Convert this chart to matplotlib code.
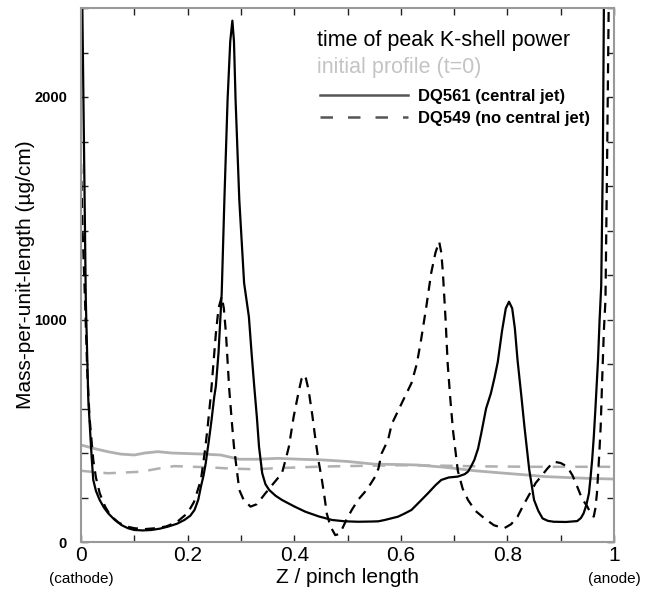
import numpy as np
import matplotlib
matplotlib.use('Agg')
import matplotlib.pyplot as plt
from matplotlib.lines import Line2D
from matplotlib.ticker import MultipleLocator, FuncFormatter

plt.rcParams['font.family'] = ['Liberation Sans', 'DejaVu Sans']

# DQ561 (central jet), time of peak K-shell power
z561 = [0.000, 0.0025, 0.006, 0.009, 0.0137, 0.017, 0.020, 0.023, 0.028, 0.035,
        0.043, 0.051, 0.063, 0.076, 0.088, 0.100, 0.116, 0.132, 0.148, 0.163,
        0.180, 0.194, 0.205, 0.213, 0.220, 0.225, 0.230, 0.234, 0.240, 0.245,
        0.250, 0.253, 0.258, 0.264, 0.269, 0.275, 0.280, 0.284, 0.287, 0.290,
        0.297, 0.306, 0.315, 0.320, 0.325, 0.330, 0.334, 0.340, 0.346, 0.353,
        0.365, 0.377, 0.400, 0.421, 0.446, 0.471, 0.495, 0.520, 0.545, 0.558,
        0.570, 0.595, 0.608, 0.620, 0.635, 0.651, 0.665, 0.676, 0.690, 0.707,
        0.720, 0.726, 0.732, 0.738, 0.745, 0.751, 0.760, 0.769, 0.776, 0.782,
        0.790, 0.797, 0.803, 0.809, 0.814, 0.819, 0.826, 0.832, 0.837, 0.841,
        0.846, 0.850, 0.858, 0.866, 0.876, 0.887, 0.910, 0.931, 0.938, 0.943,
        0.948, 0.953, 0.956, 0.959, 0.962, 0.965, 0.970, 0.973, 0.976, 0.979,
        0.981, 0.983]
m561 = [2450, 2400, 1700, 1088, 640, 503, 380, 279, 230, 189,
        155, 129, 100, 76, 62, 54, 52, 54, 60, 69,
        82, 99, 118, 144, 190, 249, 300, 354, 458, 550,
        653, 700, 850, 1119, 1537, 1987, 2250, 2343, 2250, 1987,
        1537, 1164, 1012, 850, 700, 560, 428, 309, 260, 234,
        208, 189, 160, 136, 115, 99, 93, 91, 92, 93,
        99, 114, 129, 144, 180, 219, 255, 279, 290, 294,
        305, 316, 340, 369, 420, 489, 600, 668, 740, 810,
        950, 1050, 1080, 1050, 960, 818, 660, 518, 410, 324,
        250, 189, 140, 106, 95, 91, 90, 94, 108, 129,
        165, 219, 290, 369, 470, 593, 818, 1000, 1150, 1700,
        2400, 2450]

# DQ549 (no central jet), time of peak K-shell power
z549 = [0.000, 0.003, 0.0075, 0.012, 0.016, 0.020, 0.023, 0.028, 0.035, 0.045,
        0.055, 0.070, 0.085, 0.100, 0.120, 0.140, 0.160, 0.180, 0.200, 0.212,
        0.225, 0.232, 0.237, 0.244, 0.253, 0.258, 0.264, 0.268, 0.272, 0.278,
        0.283, 0.287, 0.292, 0.297, 0.305, 0.318, 0.330, 0.346, 0.360, 0.377,
        0.385, 0.390, 0.399, 0.409, 0.414, 0.418, 0.422, 0.427, 0.434, 0.440,
        0.446, 0.452, 0.457, 0.461, 0.468, 0.477, 0.483, 0.489, 0.498, 0.508,
        0.520, 0.533, 0.543, 0.552, 0.558, 0.564, 0.576, 0.583, 0.595, 0.605,
        0.620, 0.630, 0.638, 0.648, 0.657, 0.665, 0.672, 0.676, 0.679, 0.684,
        0.688, 0.693, 0.698, 0.707, 0.716, 0.726, 0.740, 0.757, 0.775, 0.794,
        0.807, 0.819, 0.831, 0.844, 0.853, 0.863, 0.875, 0.887, 0.900, 0.912,
        0.922, 0.931, 0.940, 0.950, 0.957, 0.962, 0.965, 0.968, 0.972, 0.975,
        0.978, 0.981, 0.984, 0.987, 0.990, 0.992]
m549 = [1700, 1400, 1088, 750, 560, 450, 369, 290, 220, 160,
        120, 88, 70, 62, 58, 62, 70, 90, 130, 180,
        279, 400, 503, 670, 936, 1050, 1103, 1050, 936, 690,
        540, 428, 330, 234, 190, 159, 170, 219, 260, 309,
        380, 428, 563, 683, 735, 751, 735, 683, 570, 458,
        360, 279, 200, 129, 70, 31, 35, 54, 100, 144,
        190, 226, 260, 294, 330, 398, 458, 530, 590, 640,
        714, 800, 908, 1060, 1209, 1300, 1350, 1300, 1209, 1000,
        800, 640, 500, 320, 240, 189, 140, 106, 75, 62,
        80, 114, 170, 226, 265, 294, 330, 361, 355, 339,
        300, 249, 195, 159, 125, 114, 150, 219, 380, 518,
        743, 950, 1088, 1700, 2400, 2450]

# initial profiles (t=0)
z561_init = [0.0, 0.025, 0.05, 0.075, 0.1, 0.12, 0.144, 0.17, 0.194, 0.23,
             0.262, 0.297, 0.33, 0.37, 0.41, 0.452, 0.50, 0.55, 0.6, 0.632,
             0.682, 0.74, 0.79, 0.838, 0.87, 0.9, 0.95, 1.0]
m561_init = [436, 420, 406, 395, 391, 400, 406, 400, 398, 395,
             391, 372, 372, 376, 372, 369, 362, 350, 348, 346,
             336, 320, 310, 301, 294, 291, 286, 283]
z549_init = [0.0, 0.05, 0.08, 0.113, 0.145, 0.175, 0.21, 0.238, 0.28, 0.325,
             0.38, 0.452, 0.52, 0.6, 0.68, 0.75, 0.85, 0.92, 1.0]
m549_init = [320, 309, 312, 316, 330, 341, 338, 336, 330, 327,
             333, 339, 342, 345, 343, 340, 338, 338, 338]

fig = plt.figure(figsize=(6.49, 5.99), dpi=100)
ax = fig.add_axes([81 / 649, 1 - 542 / 599, 533 / 649, 534 / 599])

grey = '#b0b0b0'
ax.plot(z561_init, m561_init, color=grey, lw=2.0)
ax.plot(z549_init, m549_init, color=grey, lw=1.8, dashes=(5, 4))
ax.plot(z561, m561, color='black', lw=1.6)
ax.plot(z549, m549, color='black', lw=1.6, dashes=(4.5, 3.2))

ax.set_xlim(0, 1)
ax.set_ylim(0, 2400)

ax.xaxis.set_major_locator(MultipleLocator(0.2))
ax.xaxis.set_minor_locator(MultipleLocator(0.1))
ax.yaxis.set_major_locator(MultipleLocator(200))
ax.xaxis.set_major_formatter(FuncFormatter(lambda v, p: '%g' % round(v, 2)))
ax.yaxis.set_major_formatter(FuncFormatter(lambda v, p: '%d' % v if round(v) % 1000 == 0 else ''))
ax.tick_params(which='both', direction='in', top=True, right=True,
               length=5, width=1, color='#222')
ax.tick_params(axis='x', labelsize=15, pad=3)
ax.tick_params(axis='y', labelsize=10.5, pad=10)
for lab in ax.get_yticklabels():
    lab.set_fontweight('bold')
for s in ax.spines.values():
    s.set_color('#999999')
    s.set_linewidth(1.5)

ax.set_xlabel('Z / pinch length', fontsize=15, labelpad=2)
ax.set_ylabel('Mass-per-unit-length (µg/cm)', fontsize=15)
ax.yaxis.set_label_coords(-0.086, 0.5)
ax.text(0, -0.07, '(cathode)', transform=ax.transAxes, ha='center', va='center', fontsize=11)
ax.text(1, -0.07, '(anode)', transform=ax.transAxes, ha='center', va='center', fontsize=11)

ax.text(0.443, 0.940, 'time of peak K-shell power', transform=ax.transAxes,
        fontsize=15.5, va='center', ha='left', color='black')
ax.text(0.443, 0.888, 'initial profile (t=0)', transform=ax.transAxes,
        fontsize=15.5, va='center', ha='left', color='#c4c4c4')

handles = [Line2D([], [], color='#555555', lw=1.8),
           Line2D([], [], color='#555555', lw=1.8, dashes=(5, 6))]
leg = ax.legend(handles, ['DQ561 (central jet)', 'DQ549 (no central jet)'],
                loc='upper left', bbox_to_anchor=(0.448, 0.849), frameon=False,
                borderpad=0, borderaxespad=0, handlelength=5.3, handletextpad=0.6,
                labelspacing=0.44, prop={'weight': 'bold', 'size': 12})

fig.savefig('out.png', dpi=100)
